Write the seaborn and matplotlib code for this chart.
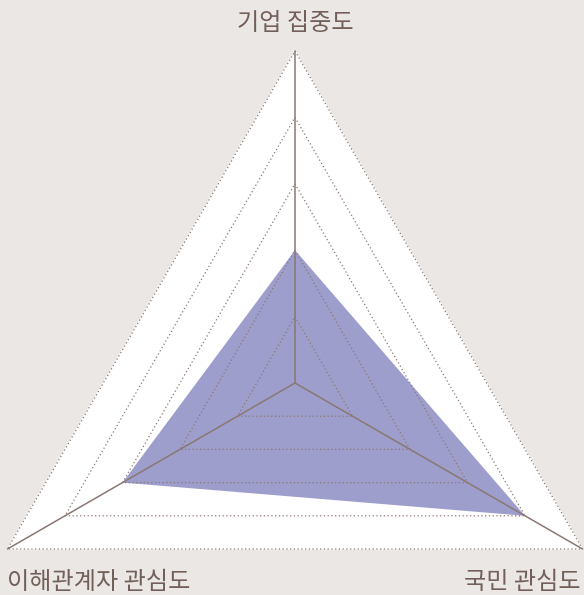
import numpy as np
import matplotlib.pyplot as plt
import seaborn as sns

# radar data (scale 0-5)
labels = ["기업 집중도", "국민 관심도", "이해관계자 관심도"]
values = [2, 4, 3]
max_value = 5
levels = [1, 2, 3, 4, 5]

sns.set_theme(style="white")
plt.rcParams['font.family'] = ['Noto Sans CJK KR', 'DejaVu Sans']

bg = "#ebe7e4"
line_col = "#8a7873"
text_col = "#725f5a"
fill_col = "#9e9ecd"

angles = np.deg2rad([90, -30, 210])

def to_xy(r):
    r = np.asarray(r, dtype=float) / max_value
    x = r * np.cos(angles)
    y = r * np.sin(angles)
    return np.append(x, x[0]), np.append(y, y[0])

fig = plt.figure(figsize=(5.84, 5.95), dpi=100, facecolor=bg)
ax = fig.add_axes([0, 0, 1, 1])
ax.set_facecolor(bg)
R = 332.0
ax.set_xlim(-295 / R, (584 - 295) / R)
ax.set_ylim(-(595 - 383) / R, 383 / R)
ax.axis("off")

# white outer triangle
ox, oy = to_xy([max_value] * 3)
ax.fill(ox, oy, color="white", zorder=1)

# data polygon
dx, dy = to_xy(values)
ax.fill(dx, dy, color=fill_col, zorder=2, linewidth=0)

# dotted grid triangles
for lv in levels:
    gx, gy = to_xy([lv] * 3)
    ax.plot(gx, gy, color=line_col, lw=0.9, linestyle=(0, (1, 2)), zorder=3)

# spokes
for a in angles:
    sns.lineplot(x=[0, np.cos(a)], y=[0, np.sin(a)], color=line_col, lw=1.1,
                 ax=ax, zorder=4, sort=False)

# axis labels
fs = 17.4
fw = "medium"
ax.text(0, 1.0 + 28 / R, labels[0], ha="center", va="center", fontsize=fs,
        color=text_col, fontweight=fw)
ax.text((581 - 295) / R, -(582 - 383) / R, labels[1], ha="right", va="center",
        fontsize=fs, color=text_col, fontweight=fw)
ax.text((7 - 295) / R, -(582 - 383) / R, labels[2], ha="left", va="center",
        fontsize=fs, color=text_col, fontweight=fw)

fig.savefig("out.png", dpi=100, facecolor=bg)
